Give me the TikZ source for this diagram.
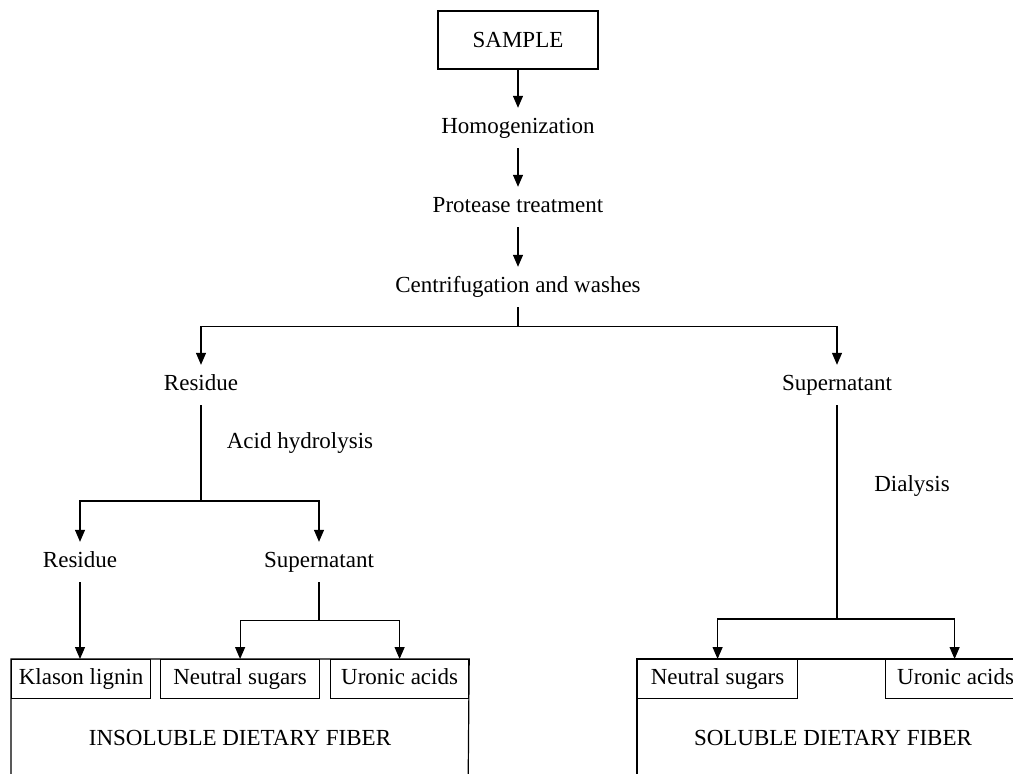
\documentclass[tikz,border=0pt]{standalone}
\usepackage{fontspec}
\setmainfont{Liberation Serif}
\usetikzlibrary{arrows.meta}
\begin{document}
\begin{tikzpicture}[x=1pt,y=1pt,
  every node/.style={font=\fontsize{23}{27}\selectfont},
  lbl/.style={text height=15pt,text depth=5pt,inner xsep=2pt,inner ysep=10pt},
  note/.style={inner sep=0pt},
  smallbox/.style={draw,line width=1.2pt,inner xsep=0pt,inner ysep=0pt,text height=15pt,text depth=5pt,minimum height=39pt,anchor=north west},
  conn/.style={line width=1.2pt},
  arr/.style={conn,-{Triangle[width=10pt,length=12pt]}}]
\useasboundingbox (0,0) rectangle (1013,-774);
\clip (0,0) rectangle (1013,-774);
% top box and chain
\node[draw,line width=1.2pt,minimum width=160pt,minimum height=58pt,inner sep=0pt] (sample) at (518,-40) {SAMPLE};
\node[lbl] (hom) at (518,-128) {Homogenization};
\node[lbl] (pro) at (518,-207) {Protease treatment};
\node[lbl] (cen) at (518,-287) {Centrifugation and washes};
\node[lbl] (res1) at (201,-385) {Residue};
\node[lbl] (sup1) at (837,-385) {Supernatant};
\node[note] (acid) at (300,-443) {Acid hydrolysis};
\node[note] (dial) at (912,-486) {Dialysis};
\node[lbl] (res2) at (80,-562) {Residue};
\node[lbl] (sup2) at (319,-562) {Supernatant};
% bottom boxes
\node[smallbox,minimum width=139pt] (kl) at (11,-659) {Klason lignin};
\node[smallbox,minimum width=159pt] (ns1) at (160,-659) {Neutral sugars};
\node[smallbox,minimum width=138pt] (ua1) at (330,-659) {Uronic acids};
\node[smallbox,minimum width=160pt] (ns2) at (637,-659) {Neutral sugars};
\node[smallbox,minimum width=140pt] (ua2) at (885,-659) {Uronic acids};
\draw[conn] (11,-800) -- (kl.north west) -- (ua1.north east) -- (468,-800);
\draw[conn] (637,-800) -- (ns2.north west) -- (1030,-659);
\node[note] (idf) at (240,-738) {INSOLUBLE DIETARY FIBER};
\node[note] (sdf) at (833,-738) {SOLUBLE DIETARY FIBER};
% connectors
\draw[arr] (sample.south) -- (hom.north);
\draw[arr] (hom.south) -- (pro.north);
\draw[arr] (pro.south) -- (cen.north);
\draw[conn] (cen.south) -- ++(0,-19) coordinate (b1);
\draw[arr] (b1) -| (res1.north);
\draw[arr] (b1) -| (sup1.north);
\draw[conn] (res1.south) -- (201,-501) coordinate (b2);
\draw[arr] (b2) -| (res2.north);
\draw[arr] (b2) -| (sup2.north);
\draw[arr] (res2.south) -- (kl.north -| res2.south);
\draw[conn] (sup2.south) -- ++(0,-38) coordinate (b3);
\draw[arr] (b3) -| (ns1.north);
\draw[arr] (b3) -| (ua1.north);
\draw[conn] (sup1.south) -- (837,-619) coordinate (b4);
\draw[arr] (b4) -| (ns2.north);
\draw[arr] (b4) -| ([xshift=-1pt]ua2.north);
\end{tikzpicture}
\end{document}
